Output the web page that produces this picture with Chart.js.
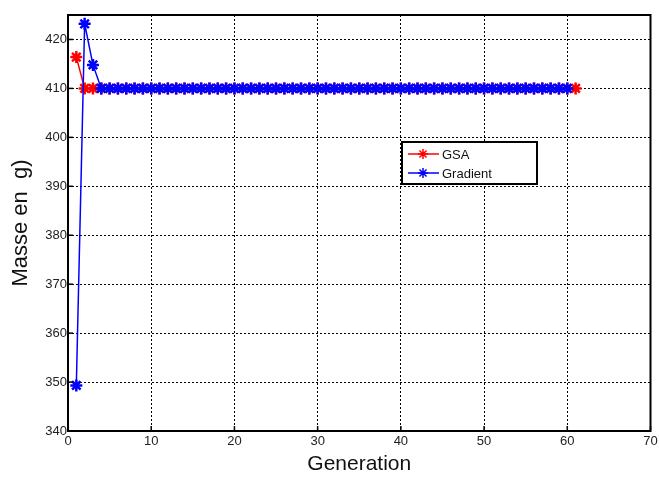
<!DOCTYPE html>
<html>
<head>
<meta charset="utf-8">
<script src="https://cdn.jsdelivr.net/npm/chart.js@4.4.1/dist/chart.umd.min.js"></script>
<style>
  html, body { margin: 0; padding: 0; background: #fff; }
  #wrap { width: 659px; height: 477px; }
</style>
</head>
<body>
<div id="wrap"><canvas id="chart1"></canvas></div>
<script>
const generations = [1,2,3,4,5,6,7,8,9,10,11,12,13,14,15,16,17,18,19,20,21,22,23,24,25,26,27,28,29,30,
  31,32,33,34,35,36,37,38,39,40,41,42,43,44,45,46,47,48,49,50,51,52,53,54,55,56,57,58,59,60,61];

const gsaMass = [416.4,410,410,410,410,410,410,410,410,410,410,410,410,410,410,410,410,410,410,410,
  410,410,410,410,410,410,410,410,410,410,410,410,410,410,410,410,410,410,410,410,
  410,410,410,410,410,410,410,410,410,410,410,410,410,410,410,410,410,410,410,410,410];

const gradientMass = [349.3,423.2,414.8,410,410,410,410,410,410,410,410,410,410,410,410,410,410,410,410,410,
  410,410,410,410,410,410,410,410,410,410,410,410,410,410,410,410,410,410,410,410,
  410,410,410,410,410,410,410,410,410,410,410,410,410,410,410,410,410,410,410,410];

const seriesNames = ['GSA', 'Gradient'];
const xTicks = [0, 10, 20, 30, 40, 50, 60, 70];
const yTicks = [340, 350, 360, 370, 380, 390, 400, 410, 420];

function toPoints(values) {
  return values.map((v, i) => ({ x: generations[i], y: v }));
}

// cadre + petits traits de graduation + légende encadrée
const framePlugin = {
  id: 'frame',
  afterDraw(chart) {
    const c = chart.ctx;
    const a = chart.chartArea;
    const xs = chart.scales.x, ys = chart.scales.y;
    c.save();
    c.strokeStyle = '#000';
    c.lineWidth = 2;
    c.setLineDash([]);
    c.strokeRect(a.left, a.top, a.right - a.left, a.bottom - a.top);
    c.lineWidth = 1.5;
    xTicks.forEach(t => {
      const px = xs.getPixelForValue(t);
      c.beginPath(); c.moveTo(px, a.bottom); c.lineTo(px, a.bottom - 5); c.stroke();
    });
    yTicks.forEach(t => {
      const py = ys.getPixelForValue(t);
      c.beginPath(); c.moveTo(a.left, py); c.lineTo(a.left + 5, py); c.stroke();
    });

    // légende
    const lx = 402, ly = 142, lw = 135, lh = 42;
    c.fillStyle = '#fff';
    c.fillRect(lx, ly, lw, lh);
    c.lineWidth = 2;
    c.strokeStyle = '#000';
    c.strokeRect(lx, ly, lw, lh);
    chart.data.datasets.forEach((ds, i) => {
      const yy = ly + 12 + i * 19;
      c.strokeStyle = ds.borderColor;
      c.lineWidth = 1.5;
      c.beginPath(); c.moveTo(lx + 6, yy); c.lineTo(lx + 37, yy); c.stroke();
      Chart.helpers.drawPoint(c, { pointStyle: 'star', radius: 5, borderWidth: 2 }, lx + 21, yy);
      c.fillStyle = '#111';
      c.font = '13px Arial, "Liberation Sans"';
      c.textBaseline = 'middle';
      c.fillText(ds.label, lx + 40, yy + 1);
    });
    c.restore();
  }
};

const ctx1 = document.getElementById('chart1').getContext('2d');

const myChart1 = new Chart(ctx1, {
  type: 'line',
  data: {
    datasets: [
      { label: seriesNames[0], data: toPoints(gsaMass), borderColor: '#ff0000', backgroundColor: '#ff0000', order: 2,
        borderWidth: 1.5, pointStyle: 'star', pointRadius: 6, pointBorderWidth: 2.5, tension: 0 },
      { label: seriesNames[1], data: toPoints(gradientMass), borderColor: '#0000ff', backgroundColor: '#0000ff', order: 1,
        borderWidth: 1.5, pointStyle: 'star', pointRadius: 6, pointBorderWidth: 2.5, tension: 0 }
    ]
  },
  options: {
    responsive: true,
    maintainAspectRatio: false,
    animation: false,
    layout: { padding: { top: 15, right: 5, left: 0, bottom: 0 } },
    plugins: { legend: { display: false }, tooltip: { enabled: false } },
    scales: {
      x: {
        type: 'linear', min: 0, max: 70,
        afterBuildTicks: s => { s.ticks = xTicks.map(v => ({ value: v })); },
        afterFit: s => { s.height = 46; s.paddingRight = 0; s.paddingLeft = 0; },
        grid: { color: '#000', lineWidth: 1, drawTicks: false },
        border: { display: false, dash: [2, 2] },
        ticks: { color: '#222', font: { family: 'Arial, "Liberation Sans"', size: 13 }, padding: 3, maxRotation: 0 },
        title: { display: true, text: 'Generation', color: '#111', font: { family: 'Arial, "Liberation Sans"', size: 21 }, padding: { top: 2, bottom: 0 } }
      },
      y: {
        type: 'linear', min: 340, max: 425,
        afterBuildTicks: s => { s.ticks = yTicks.map(v => ({ value: v })); },
        afterFit: s => { s.width = 68; s.paddingTop = 0; s.paddingBottom = 0; },
        grid: { color: '#000', lineWidth: 1, drawTicks: false },
        border: { display: false, dash: [2, 2] },
        ticks: { color: '#222', font: { family: 'Arial, "Liberation Sans"', size: 13 }, padding: 1 },
        title: { display: true, text: 'Masse en  g)', color: '#111', font: { family: 'Arial, "Liberation Sans"', size: 22 }, padding: { top: 8, bottom: 0 } }
      }
    }
  },
  plugins: [framePlugin]
});
</script>
</body>
</html>
